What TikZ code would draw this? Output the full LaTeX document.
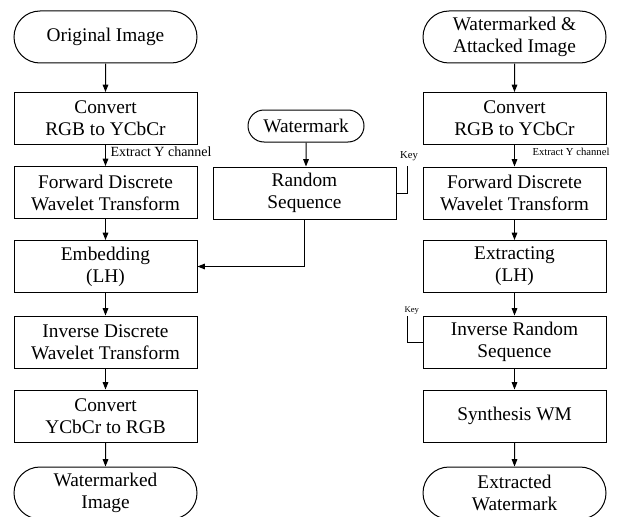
\documentclass[tikz,border=0pt]{standalone}
\usepackage{fontspec}
\setmainfont{Liberation Serif}
\usetikzlibrary{shapes.misc,arrows.meta}
\begin{document}
\begin{tikzpicture}[x=0.75pt,y=-0.75pt,
  line width=0.75pt,
  box/.style={draw, rectangle, minimum width=137.25pt, minimum height=39pt, inner sep=0pt, align=center, font=\fontsize{14.5}{16.5}\selectfont},
  term/.style={draw, rounded rectangle, minimum width=137.25pt, minimum height=39pt, inner sep=0pt, align=center, font=\fontsize{14.5}{16.5}\selectfont},
  arr/.style={-{Triangle[length=5.5pt,width=4.2pt]}},
  small/.style={font=\fontsize{10.5}{12}\selectfont, inner sep=0pt},
  tiny/.style={font=\fontsize{8}{9}\selectfont, inner sep=0pt}]
\useasboundingbox (0,0) rectangle (624,517);
\clip (0,0) rectangle (624,517);
% left column
\node[term] (oi) at (105.5,37) {Original Image};
\node[box] (cv1) at (105.5,118.5) {Convert\\RGB to YCbCr};
\node[box] (fd1) at (105.5,192.5) {Forward Discrete\\Wavelet Transform};
\node[box] (emb) at (105.5,266.5) {Embedding\\(LH)};
\node[box] (idw) at (105.5,342) {Inverse Discrete\\Wavelet Transform};
\node[box] (cv2) at (105.5,416) {Convert\\YCbCr to RGB};
\node[term] (wi) at (105.5,493) {Watermarked\\Image};
% middle
\node[term, minimum width=87pt, minimum height=24pt] (wm) at (306,126) {Watermark};
\node[box] (rs) at (304.5,193) {Random\\Sequence};
\coordinate (k1) at (407,166);
\node[tiny, anchor=south] (k1l) at (409,161) {Key};
% right column
\node[term] (wa) at (514.5,37) {Watermarked \&\\Attacked Image};
\node[box] (cv3) at (514.5,118.5) {Convert\\RGB to YCbCr};
\node[box] (fd2) at (514.5,193) {Forward Discrete\\Wavelet Transform};
\node[box] (ex) at (514.5,266.5) {Extracting\\(LH)};
\node[box] (irs) at (514.5,342) {Inverse Random\\Sequence};
\node[box] (syn) at (514.5,416) {Synthesis WM};
\node[term] (ew) at (514.5,493) {Extracted\\Watermark};
\coordinate (k2) at (407,316);
\node[font=\fontsize{6.5}{7}\selectfont, inner sep=0pt, anchor=south west] (k2l) at (404,315) {Key};
% labels
\node[small, anchor=west] (ey1) at (110,152) {Extract Y channel};
\node[tiny, anchor=west] (ey2) at (532,152) {Extract Y channel};
% connectors left
\draw[arr] (oi) -- (cv1);
\draw[arr] (cv1) -- (fd1);
\draw[arr] (fd1) -- (emb);
\draw[arr] (emb) -- (idw);
\draw[arr] (idw) -- (cv2);
\draw[arr] (cv2) -- (wi);
% middle
\draw[arr] (wm) -- (rs.north -| wm);
\draw[arr] (rs.south) |- (emb.east);
\draw (rs.east) -| (k1);
% right
\draw[arr] (wa) -- (cv3);
\draw[arr] (cv3) -- (fd2);
\draw[arr] (fd2) -- (ex);
\draw[arr] (ex) -- (irs);
\draw[arr] (irs) -- (syn);
\draw[arr] (syn) -- (ew);
\draw (irs.west) -| (k2);
\end{tikzpicture}
\end{document}
